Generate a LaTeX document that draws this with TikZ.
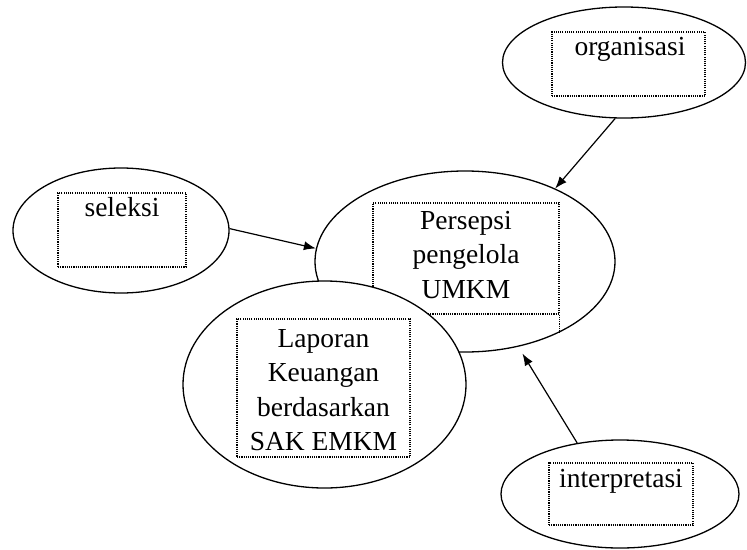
\documentclass[tikz,border=0pt]{standalone}
\usepackage{fontspec}
\setmainfont{Liberation Serif}
\usetikzlibrary{shapes.geometric,arrows.meta}
\begin{document}
\begin{tikzpicture}[x=1pt,y=-1pt]
\tikzset{
  oval/.style={ellipse, draw, line width=1.3pt, fill=white, inner sep=0pt},
  dotbox/.style={draw, line width=1.3pt, dash pattern=on 1.1pt off 1.1pt, inner sep=0pt},
  lbl/.style={font=\fontsize{27.5}{34.5}\selectfont, align=center, inner sep=0pt},
  arr/.style={-{Latex[length=12pt,width=9pt]}, line width=1.2pt}
}
\useasboundingbox[fill=white] (0,0) rectangle (747,549);

% central ellipse
\node[oval, minimum width=300pt, minimum height=181pt] (per) at (465,261.5) {};
\node[dotbox, minimum width=186pt, minimum height=111pt] (perbox) at (466,258.5) {};
\draw[line width=1.3pt, dash pattern=on 1.1pt off 1.1pt] (perbox.south east) -- ++(0,18) coordinate (perext);
\node[lbl, anchor=north] (pertxt) at (466,211) {Persepsi\\pengelola\\UMKM};

% laporan ellipse
\node[oval, minimum width=283pt, minimum height=207pt] (lap) at (324.5,384.5) {};
\node[dotbox, minimum width=173pt, minimum height=138pt] (lapbox) at (323.5,388) {};
\node[lbl, anchor=north] (laptxt) at (323.5,329) {Laporan\\Keuangan\\berdasarkan\\SAK EMKM};

% seleksi
\node[oval, minimum width=216pt, minimum height=125pt] (sel) at (121,230.5) {};
\node[dotbox, minimum width=128pt, minimum height=74pt] (selbox) at (122,230) {};
\node[lbl, anchor=base] (seltxt) at (122,216) {seleksi};

% organisasi
\node[oval, minimum width=243pt, minimum height=111pt] (org) at (624,62.5) {};
\node[dotbox, minimum width=153pt, minimum height=64pt] (orgbox) at (628.5,64) {};
\node[lbl, anchor=base] (orgtxt) at (630,55) {organisasi};

% interpretasi
\node[oval, minimum width=238pt, minimum height=108pt] (int) at (620,494) {};
\node[dotbox, minimum width=144pt, minimum height=62pt] (intbox) at (621,494) {};
\node[lbl, anchor=base] (inttxt) at (621,487) {interpretasi};

% arrows
\draw[arr] (sel.1) -- (per.175);
\draw[arr] (org.261) -- (per.39);
\draw[arr, shorten >=8pt] (int.130) -- (per.-58);
\end{tikzpicture}
\end{document}
